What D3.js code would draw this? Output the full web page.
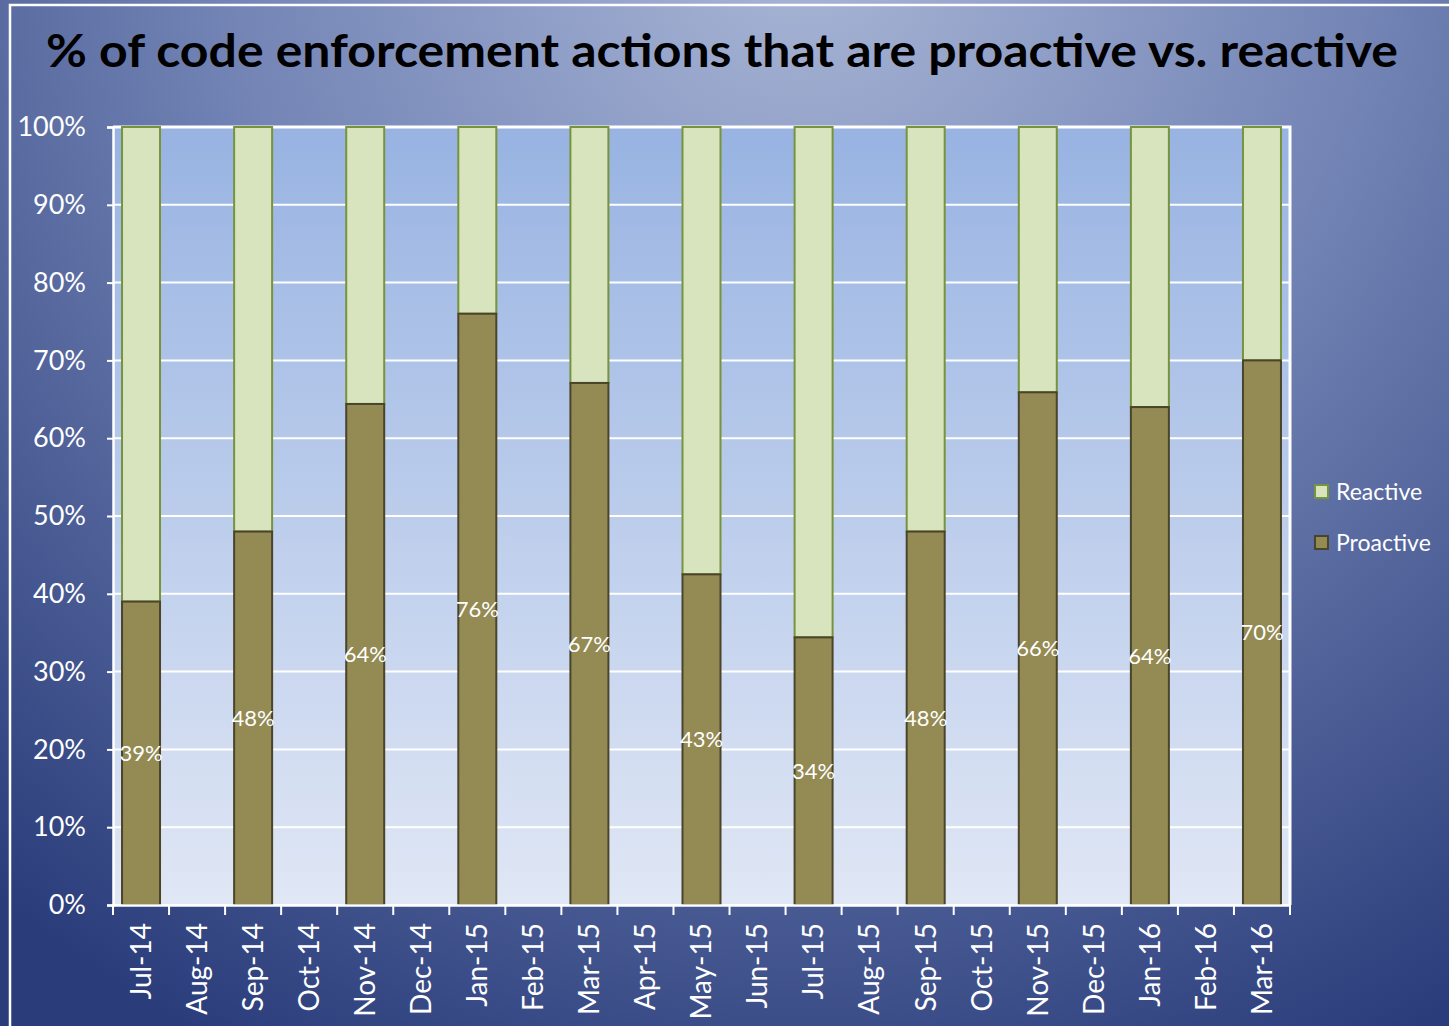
<!DOCTYPE html>
<html>
<head>
<meta charset="utf-8">
<script src="https://cdn.jsdelivr.net/npm/d3@7"></script>
<style>
  body { margin: 0; background: #2f4380; }
  svg { display: block; }
</style>
</head>
<body>
<script>
var width = 1449
var height = 1026
var font = "Lato, 'Open Sans', sans-serif"

// months on the axis, data only every other month
var months = ["Jul-14","Aug-14","Sep-14","Oct-14","Nov-14","Dec-14","Jan-15","Feb-15","Mar-15","Apr-15",
  "May-15","Jun-15","Jul-15","Aug-15","Sep-15","Oct-15","Nov-15","Dec-15","Jan-16","Feb-16","Mar-16"]
var barMonths = ["Jul-14","Sep-14","Nov-14","Jan-15","Mar-15","May-15","Jul-15","Sep-15","Nov-15","Jan-16","Mar-16"]
var proactive = [39, 48, 64.4, 76, 67.1, 42.5, 34.4, 48, 65.9, 64, 70]
var yTicks = [0, 10, 20, 30, 40, 50, 60, 70, 80, 90, 100]

var margin = { top: 127, left: 113, right: 159, bottom: 121 }
var plotW = width - margin.left - margin.right
var plotH = height - margin.top - margin.bottom

var svg = d3.select("body").append("svg")
  .attr("width", width)
  .attr("height", height)

var defs = svg.append("defs")
var bg = defs.append("radialGradient").attr("id", "bg")
  .attr("gradientUnits", "userSpaceOnUse")
  .attr("cx", 800).attr("cy", -60).attr("r", 1250)
bg.append("stop").attr("offset", "0").attr("stop-color", "#a9b6d6")
bg.append("stop").attr("offset", "0.45").attr("stop-color", "#7485b6")
bg.append("stop").attr("offset", "1").attr("stop-color", "#2a3c7a")

var plotBg = defs.append("linearGradient").attr("id", "plotbg")
  .attr("x1", 0).attr("y1", 0).attr("x2", 0).attr("y2", 1)
plotBg.append("stop").attr("offset", "0").attr("stop-color", "#98b3e2")
plotBg.append("stop").attr("offset", "1").attr("stop-color", "#e0e7f5")

svg.append("rect").attr("width", width).attr("height", height).attr("fill", "url(#bg)")
svg.append("rect")
  .attr("x", 10).attr("y", 5).attr("width", width).attr("height", height)
  .attr("fill", "none").attr("stroke", "#ffffff").attr("stroke-width", 2.5)

svg.append("text")
  .attr("x", 722).attr("y", 67)
  .attr("text-anchor", "middle")
  .attr("font-family", font)
  .attr("font-weight", "bold")
  .attr("font-size", 45)
  .attr("textLength", 1352)
  .attr("lengthAdjust", "spacingAndGlyphs")
  .attr("fill", "#000")
  .text("% of code enforcement actions that are proactive vs. reactive")

var g = svg.append("g").attr("transform", "translate(" + margin.left + "," + margin.top + ")")

var x = d3.scaleBand().domain(months).range([0, plotW])
var y = d3.scaleLinear().domain([0, 100]).range([plotH, 0])

g.append("rect").attr("width", plotW).attr("height", plotH).attr("fill", "url(#plotbg)")

g.selectAll(".grid").data(yTicks).enter().append("line")
  .attr("x1", 0).attr("x2", plotW)
  .attr("y1", function (d) { return y(d) }).attr("y2", function (d) { return y(d) })
  .attr("stroke", "#ffffff").attr("stroke-width", 2)

// plot border top / right
g.append("path")
  .attr("d", "M0,0H" + plotW + "V" + plotH)
  .attr("fill", "none").attr("stroke", "#ffffff").attr("stroke-width", 3)

var bw = 38
var rows = barMonths.map(function (m, i) { return { m: m, p: proactive[i] } })

g.selectAll(".reactive").data(rows).enter().append("rect")
  .attr("x", function (d) { return x(d.m) + x.bandwidth() / 2 - bw / 2 })
  .attr("y", y(100))
  .attr("width", bw)
  .attr("height", function (d) { return y(d.p) - y(100) })
  .attr("fill", "#d7e4bd").attr("stroke", "#77933c").attr("stroke-width", 2)

g.selectAll(".proactive").data(rows).enter().append("rect")
  .attr("x", function (d) { return x(d.m) + x.bandwidth() / 2 - bw / 2 })
  .attr("y", function (d) { return y(d.p) })
  .attr("width", bw)
  .attr("height", function (d) { return y(0) - y(d.p) })
  .attr("fill", "#948a54").attr("stroke", "#4a452a").attr("stroke-width", 2)

g.selectAll(".lbl").data(rows).enter().append("text")
  .attr("x", function (d) { return x(d.m) + x.bandwidth() / 2 })
  .attr("y", function (d) { return (y(d.p) + y(0)) / 2 })
  .attr("dy", "0.35em")
  .attr("text-anchor", "middle")
  .attr("font-family", font)
  .attr("font-size", 22)
  .attr("fill", "#ffffff")
  .text(function (d) { return Math.round(d.p) + "%" })

// y axis
var yAxis = g.append("g").call(d3.axisLeft(y).tickValues(yTicks).tickSize(6).tickFormat(function (d) { return d + "%" }))
yAxis.select(".domain").attr("stroke", "#ffffff").attr("stroke-width", 2.5)
yAxis.selectAll(".tick line").attr("stroke", "#ffffff").attr("stroke-width", 2)
yAxis.selectAll("text")
  .attr("x", -27)
  .attr("fill", "#ffffff")
  .attr("font-family", font)
  .attr("font-size", 27)

// x axis
var xAxis = g.append("g").attr("transform", "translate(0," + plotH + ")")
  .call(d3.axisBottom(x).tickSize(0))
xAxis.select(".domain").attr("stroke", "#ffffff").attr("stroke-width", 2.5)
xAxis.selectAll(".sep").data(d3.range(months.length + 1)).enter().append("line")
  .attr("x1", function (i) { return i * x.step() }).attr("x2", function (i) { return i * x.step() })
  .attr("y1", 0).attr("y2", 10)
  .attr("stroke", "#ffffff").attr("stroke-width", 2)
xAxis.selectAll(".tick text")
  .attr("transform", "rotate(-90)")
  .attr("x", -18).attr("y", 0)
  .attr("dy", "0.35em")
  .attr("text-anchor", "end")
  .attr("fill", "#ffffff")
  .attr("font-family", font)
  .attr("font-size", 28)

// legend
var legendItems = [
  { name: "Reactive", fill: "#d7e4bd", stroke: "#77933c" },
  { name: "Proactive", fill: "#948a54", stroke: "#4a452a" }
]
var lg = svg.selectAll(".legend").data(legendItems).enter().append("g")
  .attr("transform", function (d, i) { return "translate(1315," + (485 + i * 51) + ")" })
lg.append("rect").attr("width", 13).attr("height", 13)
  .attr("fill", function (d) { return d.fill })
  .attr("stroke", function (d) { return d.stroke }).attr("stroke-width", 2)
lg.append("text").attr("x", 21).attr("y", 6.5).attr("dy", "0.35em")
  .attr("fill", "#ffffff")
  .attr("font-family", font)
  .attr("font-size", 23)
  .text(function (d) { return d.name })
</script>
</body>
</html>
